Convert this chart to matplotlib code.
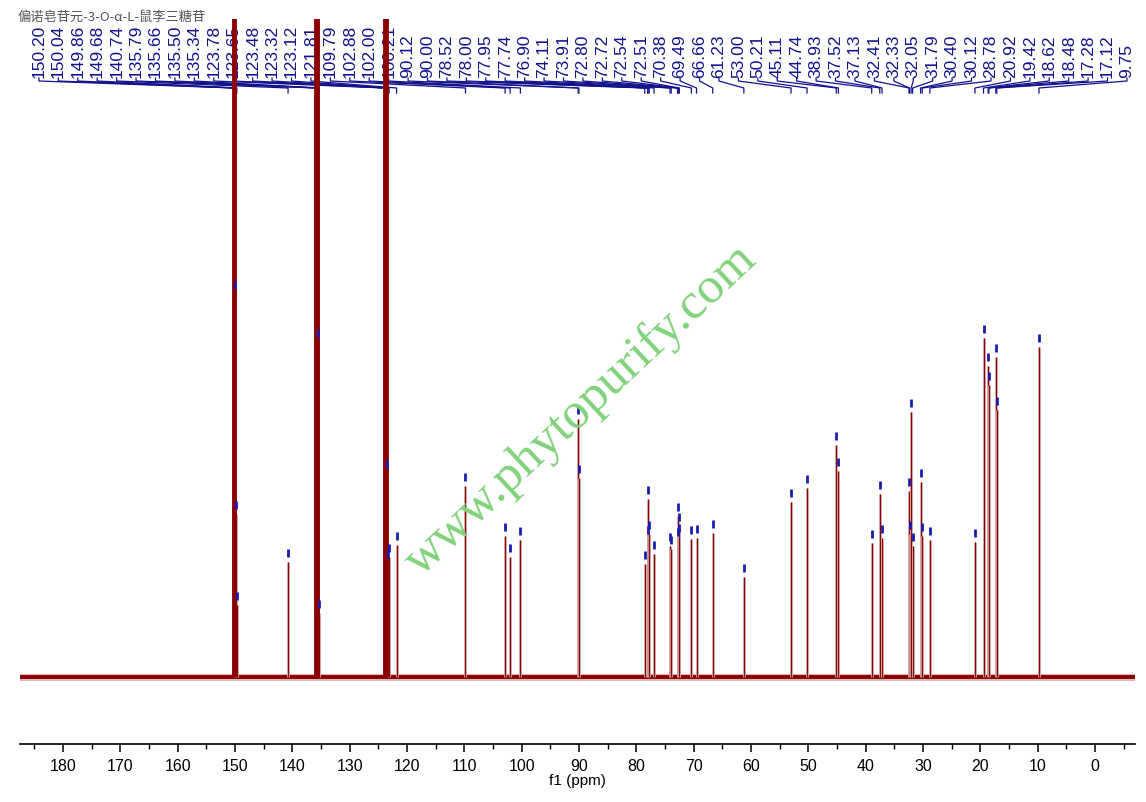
import numpy as np
import matplotlib.pyplot as plt
from matplotlib.ticker import MultipleLocator

plt.rcParams['font.family'] = ['Liberation Sans', 'DejaVu Sans']

# 13C peaks (ppm) and heights (arbitrary units, 0 = baseline)
picos_ppm = [150.20, 150.04, 149.86, 149.68, 140.74, 135.79, 135.66, 135.50, 135.34,
             123.78, 123.65, 123.48, 123.32, 123.12, 121.81, 109.79, 102.88, 102.00,
             100.21, 90.12, 90.00, 78.52, 78.00, 77.95, 77.74, 76.90, 74.11, 73.91,
             72.80, 72.72, 72.54, 72.51, 70.38, 69.49, 66.66, 61.23, 53.00, 50.21,
             45.11, 44.74, 38.93, 37.52, 37.13, 32.41, 32.33, 32.05, 31.79, 30.40,
             30.12, 28.78, 20.92, 19.42, 18.62, 18.48, 17.28, 17.12, 9.75]
alturas = [1200, 383, 163, 72, 115, 1200, 1200, 335, 64,
           1200, 1200, 204, 114, 120, 132, 191, 141, 120,
           137, 258, 199, 113, 178, 138, 143, 123, 131, 128,
           136, 161, 151, 140, 138, 139, 144, 100, 175, 189,
           232, 206, 134, 183, 139, 186, 143, 265, 131, 195,
           141, 137, 135, 339, 311, 292, 320, 267, 330]
rotulos = [f'{p:.2f}' for p in picos_ppm]

titulo = '偏诺皂苷元-3-O-α-L-鼠李三糖苷'
marca = 'www.phytopurify.com'

x_esq, x_dir = 187.5, -7.0
y_min, y_max = -67, 658

fig = plt.figure(figsize=(11.46, 8.03), dpi=100)
ax = fig.add_axes([20 / 1146, 58 / 803, 1115 / 1146, 725 / 803])
ax.set_xlim(x_esq, x_dir)
ax.set_ylim(y_min, y_max)

cor_esp = '#8b0000'
cor_azul = '#12128c'

# baseline (noise band)
ax.axhline(0, color='#b06060', lw=5.0, alpha=0.45, zorder=3)
ax.axhline(0, color=cor_esp, lw=2.8, zorder=3)

# peaks
for p, h in zip(picos_ppm, alturas):
    if h > 600:
        ax.vlines(p, 0, h, color=cor_esp, lw=3.5, zorder=4)
    else:
        ax.vlines(p, 0, h, color='#cfa8a8', lw=2.0, zorder=3)
        ax.vlines(p, 0, h, color=cor_esp, lw=0.8, zorder=3)
        # blue peak marker
        ax.vlines(p, h + 5, h + 13, color='#1c1cb0', lw=2.0, zorder=5)

# peak labels with connectors
n = len(picos_ppm)
pos_rotulo = np.linspace(184.2, -5.6, n)
for lx, p, txt in zip(pos_rotulo, picos_ppm, rotulos):
    ax.plot([lx, lx, p, p], [599, 596, 589, 584], color=cor_azul, lw=0.9, zorder=2,
            clip_on=False)
    ax.text(lx, 600, txt, rotation=90, ha='center', va='bottom', fontsize=12.5,
            color=cor_azul, clip_on=False, zorder=2)

# axis
for s in ['top', 'left', 'right']:
    ax.spines[s].set_visible(False)
ax.spines['bottom'].set_linewidth(1.2)
ax.set_yticks([])
ax.xaxis.set_major_locator(MultipleLocator(10))
ax.xaxis.set_minor_locator(MultipleLocator(5))
ax.tick_params(axis='x', which='major', length=6, width=1.1, labelsize=11.5, pad=4)
ax.tick_params(axis='x', which='minor', length=3.5, width=1.0)
ax.set_xlabel('f1 (ppm)', fontsize=11, labelpad=0)

# title and watermark
fig.text(18 / 1146, 1 - 17 / 803, titulo, fontsize=9.5, color='#555555',
         family=['Noto Sans CJK SC', 'DejaVu Sans'], ha='left', va='center')
fig.text(0.507, 0.489, marca, fontsize=37, color='#80d27a', rotation=43,
         family='Liberation Serif', ha='center', va='center', zorder=1)

plt.savefig('out.png', dpi=100)
